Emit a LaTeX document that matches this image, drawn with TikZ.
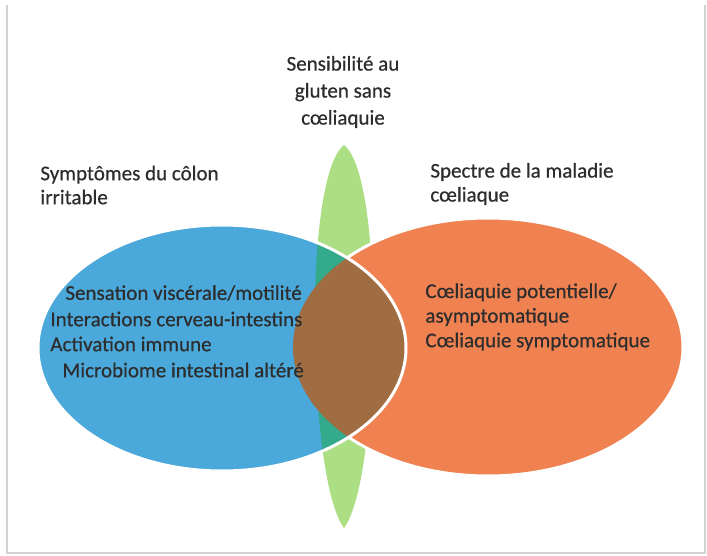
\documentclass[tikz,border=0pt]{standalone}
\usepackage{fontspec}
\setmainfont{Carlito}
\newfontfamily\medfont{Carlito}[FakeBold=0.5]
\usepackage{tikz}
\usetikzlibrary{positioning}
\definecolor{ibsblue}{RGB}{74,168,218}
\definecolor{cdorange}{RGB}{240,130,82}
\definecolor{ncgsgreen}{RGB}{172,222,132}
\definecolor{mixteal}{RGB}{52,170,140}
\definecolor{mixbrown}{RGB}{160,108,66}
\definecolor{txt}{RGB}{45,45,45}

\begin{document}
\begin{tikzpicture}[x=0.5pt, y=-0.5pt,
  lbl/.style={font=\medfont\fontsize{10.5}{12}\selectfont, text=txt, inner sep=0pt, align=left},
  rim/.style={draw=white, line width=1.5pt}
]
\useasboundingbox (0,0) rectangle (707,556);
\fill[white] (0,0) rectangle (707,556);
\draw[gray!35, line width=0.6pt] (7,5) -- (7,553) -- (705,553) -- (705,5);
% the three sets
\fill[ncgsgreen] (344,145) .. controls (386,178) and (380,480) .. (344,528)
  .. controls (308,480) and (302,178) .. (344,145) -- cycle;
\draw[rim, fill=cdorange] (488,347) ellipse [x radius=195, y radius=129];
\fill[ibsblue] (222,348) ellipse [x radius=184, y radius=123];
\begin{scope}
  \clip (222,348) ellipse [x radius=184, y radius=123];
  \fill[mixteal] (344,145) .. controls (386,178) and (380,480) .. (344,528)
    .. controls (308,480) and (302,178) .. (344,145) -- cycle;
  \fill[mixbrown] (488,347) ellipse [x radius=195, y radius=129];
\end{scope}
\draw[rim] (222,348) ellipse [x radius=184, y radius=123];
% titles
\node[lbl, align=center, font=\medfont\fontsize{10.5}{13.5}\selectfont] (ncgs) at (343,92) {Sensibilité au\\gluten sans\\cœliaquie};
\node[lbl, anchor=west] (ibs) at (40,185) {Symptômes du côlon\\irritable};
\node[lbl, anchor=west] (cd) at (430,184) {Spectre de la maladie\\cœliaque};
% contents
\node[lbl, anchor=west] (visc) at (65,293) {Sensation viscérale/motilité};
\node[lbl, anchor=west] (brain) at (50,319) {Interactions cerveau-intestins};
\node[lbl, anchor=west] (immun) at (50,344) {Activation immune};
\node[lbl, anchor=west] (micro) at (62,370) {Microbiome intestinal altéré};
\node[lbl, anchor=west, font=\medfont\fontsize{10.5}{12.3}\selectfont] (cdlist) at (425,317) {Cœliaquie potentielle/\\asymptomatique\\Cœliaquie symptomatique};
\end{tikzpicture}
\end{document}
